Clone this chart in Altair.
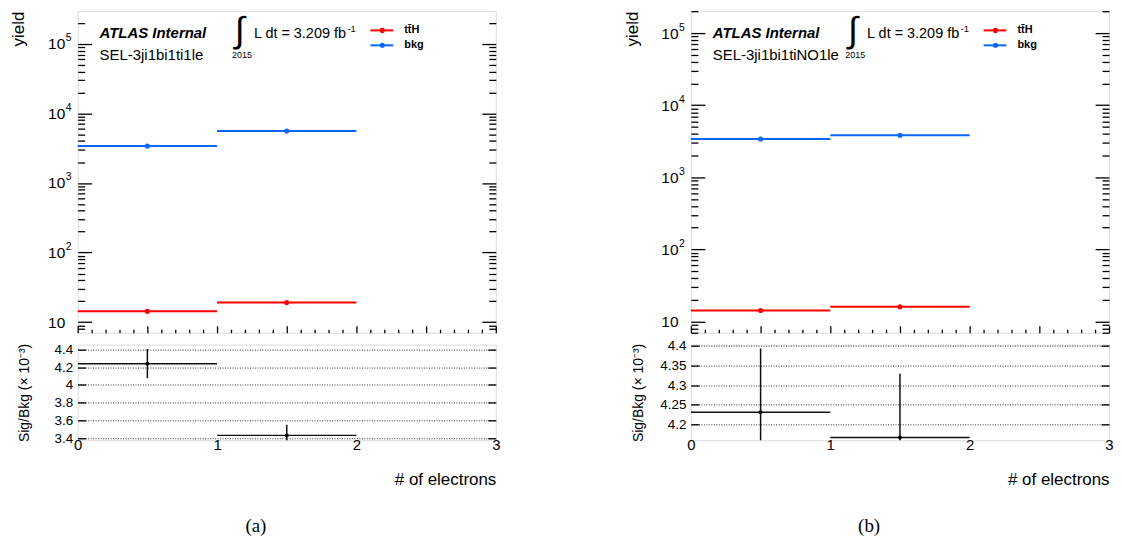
import altair as alt
import pandas as pd

# ---------------- data ----------------
bin_lo = [0, 1]
bin_hi = [1, 2]
bin_mid = [0.5, 1.5]

a_tth = [14.3, 19.1]
a_bkg = [3400, 5580]
a_ratio = [4.24, 3.43]
a_err = [0.165, 0.12]

b_tth = [14.2, 16.0]
b_bkg = [3410, 3830]
b_ratio = [4.231, 4.167]
b_err = [0.162, 0.162]

a_region = "SEL-3ji1bi1ti1le"
b_region = "SEL-3ji1bi1tiNO1le"

a_ydom = [7.05, 2.94e5]
b_ydom = [6.97, 2.02e5]
a_rdom = [3.375, 4.455]
b_rdom = [4.160, 4.403]
a_rticks = [3.4, 3.6, 3.8, 4.0, 4.2, 4.4]
b_rticks = [4.2, 4.25, 4.3, 4.35, 4.4]
a_rfmt = ".1~f"
b_rfmt = ".2~f"

x_labels = [0, 1, 2, 3]
x_ticks = [round(i * 0.1, 1) for i in range(31)]
y_major = [10, 100, 1000, 10000, 100000]
y_all = [m * 10 ** e for e in range(0, 6) for m in range(1, 10)]

processes = ["ttH", "bkg"]
legend_labels = ["tt\u0304H", "bkg"]

# ---------------- style ----------------
FONT = "Liberation Sans"
RED = "#ff0000"
BLUE = "#0a66ff"
W, H, RH = 420, 323, 96

XMAJ = "abs(datum.value*2 - round(datum.value*2)) < 0.001"
LOGMAJ = "abs(log(datum.value)/log(10) - round(log(datum.value)/log(10))) < 0.001"
EXP = ("datum.value >= 99999 ? '5' : datum.value >= 9999 ? '4' : "
       "datum.value >= 999 ? '3' : datum.value >= 99 ? '2' : ''")


def cond(test, big, small):
    return {"condition": {"test": test, "value": big}, "value": small}


def text_layer(txt, x, y, size, weight="normal", style="normal", align="left",
               baseline="alphabetic", font=FONT):
    return alt.Chart(pd.DataFrame({"t": [txt]})).mark_text(
        font=font, fontSize=size, fontWeight=weight, fontStyle=style,
        align=align, baseline=baseline, color="black"
    ).encode(text="t:N", x=alt.value(x), y=alt.value(y))


def main_panel(tth, bkg, ydom, region):
    df = pd.DataFrame({
        "process": [processes[0]] * 2 + [processes[1]] * 2,
        "lo": bin_lo + bin_lo,
        "hi": bin_hi + bin_hi,
        "mid": bin_mid + bin_mid,
        "yield": tth + bkg,
    })
    xs = alt.Scale(domain=[0, 3], nice=False, zero=False)
    ys = alt.Scale(type="log", domain=ydom, nice=False)
    col = alt.Color("process:N", scale=alt.Scale(domain=processes, range=[RED, BLUE]), legend=None)
    minor = [v for v in y_all if ydom[0] <= v <= ydom[1]]
    base = alt.Chart(df)

    lines = base.mark_rule(strokeWidth=2).encode(
        x=alt.X("lo:Q", scale=xs, axis=alt.Axis(
            orient="top", offset=-H, values=x_ticks, labels=False, domain=False,
            grid=False, title=None, tickColor="black", tickWidth=1.3,
            tickSize=cond(XMAJ, 7, 3.5))),
        x2="hi:Q",
        y=alt.Y("yield:Q", scale=ys, axis=alt.Axis(
            orient="left", values=y_major, labelExpr="'10'", ticks=False, tickSize=0,
            domain=False, grid=False, labelPadding=13, labelFont=FONT,
            labelFontSize=15.5, labelColor="black", title="yield", titleX=-59,
            titleY=0, titleAlign="right", titleBaseline="middle", titleAngle=270,
            titleFont=FONT, titleFontSize=17, titleFontWeight="normal",
            titleColor="black")),
        color=col,
    )
    exps = base.mark_point(opacity=0).encode(
        x=alt.X("mid:Q", scale=xs, axis=None),
        y=alt.Y("yield:Q", scale=ys, axis=alt.Axis(
            orient="left", values=y_major, labelExpr=EXP, ticks=False, tickSize=0,
            domain=False, grid=False, labelPadding=12.5, labelAlign="left",
            labelOffset=-6, labelFont=FONT, labelFontSize=10.5, labelColor="black",
            title=None)),
    )
    pts = base.mark_circle(size=26, opacity=1).encode(
        x=alt.X("mid:Q", scale=xs, axis=None),
        y=alt.Y("yield:Q", scale=ys, axis=alt.Axis(
            orient="right", offset=-W, values=minor, labels=False, domain=False,
            grid=False, title=None, tickColor="black", tickWidth=1.3,
            tickSize=cond(LOGMAJ, 14, 7))),
        color=col,
    )
    pts_r = base.mark_point(opacity=0).encode(
        x=alt.X("mid:Q", scale=xs, axis=None),
        y=alt.Y("yield:Q", scale=ys, axis=alt.Axis(
            orient="left", offset=-W, values=minor, labels=False, domain=False,
            grid=False, title=None, tickColor="black", tickWidth=1.3,
            tickSize=cond(LOGMAJ, 14, 7))),
    )
    ann = [
        text_layer("ATLAS Internal", 22, 27, 15, weight="bold", style="italic"),
        text_layer(region, 22, 49, 15),
        text_layer("\u222b", 163, 20, 36, align="center", baseline="middle"),
        text_layer("L dt = 3.209 fb", 177, 27, 14.5),
        text_layer("-1", 271, 21, 9.5),
        text_layer("2015", 155, 47, 9),
    ]
    legend_y = [19.3, 34.3]
    for i, p in enumerate(processes):
        c = RED if i == 0 else BLUE
        ann.append(alt.Chart(pd.DataFrame({"p": [p]})).mark_rule(strokeWidth=2, color=c).encode(
            x=alt.value(294), x2=alt.value(317), y=alt.value(legend_y[i])))
        ann.append(alt.Chart(pd.DataFrame({"p": [p]})).mark_circle(size=26, opacity=1, color=c).encode(
            x=alt.value(306), y=alt.value(legend_y[i])))
        ann.append(text_layer(legend_labels[i], 328, legend_y[i], 11, weight="bold", baseline="middle"))

    return alt.layer(lines, exps, pts, pts_r, *ann).resolve_axis(
        x="independent", y="independent").properties(width=W, height=H)


def ratio_panel(ratio, err, rdom, rticks, fmt, caption):
    df = pd.DataFrame({
        "lo": bin_lo, "hi": bin_hi, "mid": bin_mid, "r": ratio,
        "rlo": [r - e for r, e in zip(ratio, err)],
        "rhi": [r + e for r, e in zip(ratio, err)],
    })
    xs = alt.Scale(domain=[0, 3], nice=False, zero=False)
    ys = alt.Scale(domain=rdom, nice=False, zero=False)
    base = alt.Chart(df)
    hl = base.mark_rule(strokeWidth=1.5, color="#111", clip=True).encode(
        x=alt.X("lo:Q", scale=xs, axis=alt.Axis(
            orient="bottom", values=x_labels, format="d", ticks=False, tickSize=0,
            domain=False, grid=False, labelPadding=-3, labelFont=FONT,
            labelFontSize=15, labelColor="black", labelFlush=False,
            title="# of electrons", titleX=W, titleY=44,
            titleAlign="right", titleBaseline="alphabetic", titleFont=FONT,
            titleFontSize=17, titleFontWeight="normal", titleColor="black")),
        x2="hi:Q",
        y=alt.Y("r:Q", scale=ys, axis=alt.Axis(
            orient="left", values=rticks, format=fmt, ticks=False, tickSize=0,
            domain=False, grid=True, gridDash=[1, 1.5], gridColor="#000",
            gridWidth=1, gridOpacity=0.8, labelPadding=5, labelFont=FONT,
            labelFontSize=13.5, labelColor="black",
            title="Sig/Bkg (\u00d7 10\u207b\u00b3)", titleX=-53, titleY=RH / 2,
            titleAlign="center", titleBaseline="middle", titleAngle=270,
            titleFont=FONT, titleFontSize=14, titleFontWeight="normal",
            titleColor="black")),
    )
    eb = base.mark_rule(strokeWidth=1.5, color="#111", clip=True).encode(
        x=alt.X("mid:Q", scale=xs, axis=None),
        y=alt.Y("rlo:Q", scale=ys, axis=alt.Axis(
            orient="right", offset=-W, values=rticks, labels=False, domain=False,
            grid=False, title=None, tickColor="black", tickWidth=1.3, tickSize=8)),
        y2="rhi:Q",
    )
    pt = base.mark_circle(size=16, color="black", opacity=1, clip=True).encode(
        x=alt.X("mid:Q", scale=xs, axis=None),
        y=alt.Y("r:Q", scale=ys, axis=alt.Axis(
            orient="left", offset=-W, values=rticks, labels=False, domain=False,
            grid=False, title=None, tickColor="black", tickWidth=1.3, tickSize=8)),
    )
    cap = text_layer(caption, 179, 182, 19, align="center", baseline="middle",
                     font="Liberation Serif")
    return alt.layer(hl, eb, pt, cap).resolve_axis(
        x="independent", y="independent").properties(width=W, height=RH)


main_a = main_panel(a_tth, a_bkg, a_ydom, a_region)
main_b = main_panel(b_tth, b_bkg, b_ydom, b_region)
ratio_a = ratio_panel(a_ratio, a_err, a_rdom, a_rticks, a_rfmt, "(a)")
ratio_b = ratio_panel(b_ratio, b_err, b_rdom, b_rticks, b_rfmt, "(b)")

chart = alt.concat(
    main_a, main_b, ratio_a, ratio_b,
    columns=2, spacing={"row": 12, "column": 196}, bounds="flush",
).properties(
    padding={"left": 1, "top": 0, "right": 0, "bottom": 0},
    background="white",
).configure_view(stroke="#111", strokeWidth=1.5).configure(font=FONT)

chart.save("out.html", embed_options={"renderer": "svg", "actions": False})
